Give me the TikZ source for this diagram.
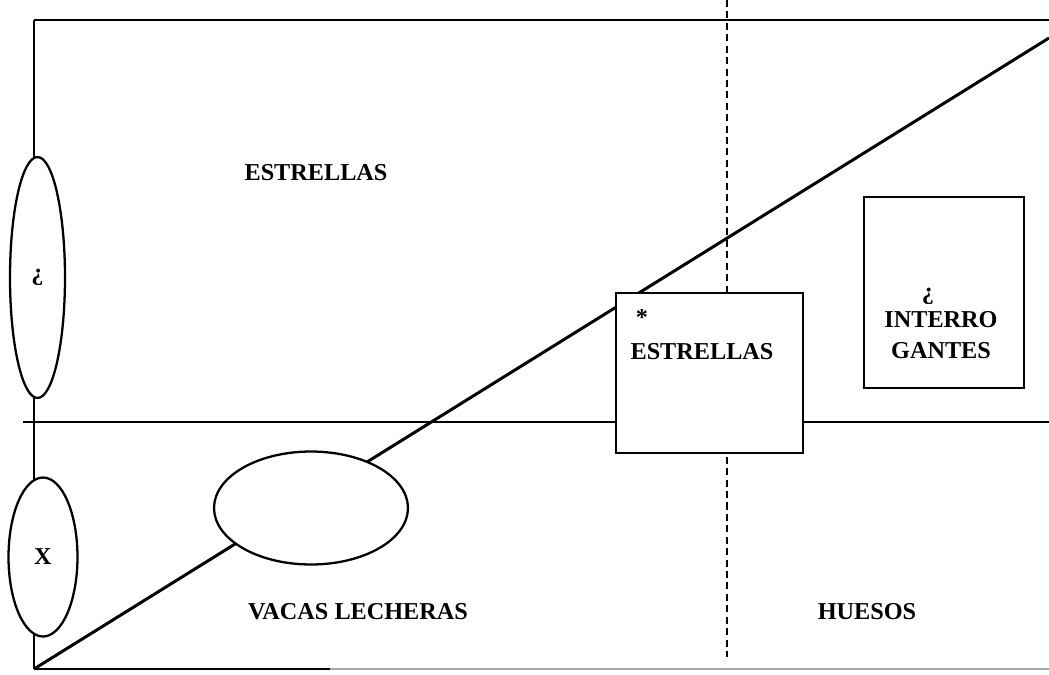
\documentclass[tikz,border=0pt]{standalone}
\usepackage{fontspec}
\setmainfont{Liberation Serif}
\usetikzlibrary{shapes.geometric}

\begin{document}
\begin{tikzpicture}[
        x = 0.02cm, y = -0.02cm, % one unit per pixel
        line width = 1.7pt, % line style
        font = \bfseries\fontsize{13.8}{17.6}\selectfont
    ]

    \tikzstyle{every node}=[fill = white, inner sep = 0pt]
    \tikzstyle{blob}=[draw = black, ellipse, line width = 1.3pt]
    \tikzstyle{box}=[draw = black, rectangle, line width = 1.4pt]

    \useasboundingbox (0,0) rectangle (1049,674);

    % frame and axes
    \coordinate (tl) at (34,20); \coordinate (tr) at (1049,20);
    \coordinate (bl) at (34,669); \coordinate (br) at (1049,669);
    \coordinate (bm) at (330,669); \coordinate (dg) at (1049,38);
    \coordinate (ml) at (23,422); \coordinate (mr) at (1049,422);
    \coordinate (dt) at (727,0); \coordinate (db) at (727,657);

    \draw (bl) -- (tl); \draw[line width = 1.4pt] (tl) -- (tr);
    \draw[line width = 1.4pt] (ml) -- (mr); \draw (bl) -- (dg);
    \draw[line width = 1.4pt] (bl) -- (bm);
    \draw[gray!70, line width = 1pt] (bm) -- (br);
    \draw[dashed, dash pattern = on 4pt off 2.5pt] (dt) -- (db);

    \node (1) [blob, minimum width = 1.1cm, minimum height = 4.82cm]
    at (37.5,277.5) {¿}; \node (2) [blob, minimum width = 1.38cm,
    minimum height = 3.18cm] at (43,557) {X};
    \node (3) [blob, minimum width = 3.88cm, minimum height = 2.26cm]
    at (311,508) {};

    \node (4) [box, minimum width = 3.74cm, minimum height = 3.2cm]
    at (709.5,373) {}; \node (5) [box, minimum width = 3.2cm,
    minimum height = 3.82cm] at (944,292.5) {};

    \node (star) at (642,317) {*}; \node (est2) at (702,352) {ESTRELLAS};
    \node (q2) at (928,296) {¿}; \node (interro) [align = center] at
    (941,335) {INTERRO\\GANTES};

    \node (est) at (316,173) {ESTRELLAS};
    \node (vacas) at (358,612) {VACAS LECHERAS};
    \node (huesos) at (867,612) {HUESOS};

\end{tikzpicture}
\end{document}
